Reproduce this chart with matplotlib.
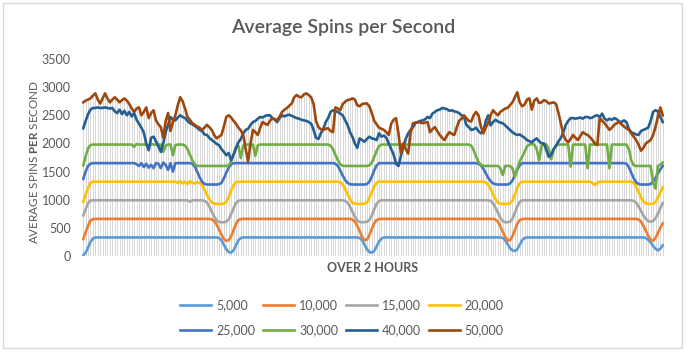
import matplotlib
matplotlib.use("Agg")
import matplotlib.pyplot as plt
from matplotlib.patches import Rectangle
import numpy as np

plt.rcParams['font.family'] = ['Lato', 'DejaVu Sans']
plt.rcParams['mathtext.fontset'] = 'custom'
plt.rcParams['mathtext.rm'] = 'Lato'
plt.rcParams['mathtext.bf'] = 'Lato:bold'

# spins per second, one reading every 30 s over 2 hours (240 readings)
s5000 = ([10, 60, 150, 250, 310] + [330] * 51
         + [320, 280, 200, 120, 70, 60, 100, 190, 280, 320] + [330] * 48
         + [320, 280, 200, 120, 70, 60, 90, 170, 260, 310] + [330] * 49
         + [320, 280, 210, 140, 100, 90, 120, 200, 280, 320] + [330] * 49
         + [320, 290, 240, 180, 130, 100, 130, 190])

s10000 = ([300, 420, 540, 630, 655] + [660] * 48
          + [650, 620, 560, 470, 380, 300, 270, 280, 350, 460, 570, 640, 655] + [660] * 45
          + [650, 610, 540, 440, 340, 280, 290, 370, 480, 580, 640, 655] + [660] * 47
          + [650, 610, 530, 430, 340, 280, 280, 350, 460, 570, 640, 655] + [660] * 47
          + [650, 610, 540, 450, 360, 290, 270, 320, 410, 500, 580])

s15000 = ([720, 830, 940, 985] + [990] * 40 + [965, 990] + [990] * 4
          + [980, 950, 880, 790, 700, 630, 605, 600, 600, 610, 650, 740, 850, 940, 980, 990] + [990] * 42
          + [980, 950, 880, 790, 700, 630, 605, 600, 600, 610, 640, 720, 830, 930, 980, 990] + [990] * 44
          + [980, 940, 860, 770, 680, 620, 600, 600, 610, 660, 770, 880, 960, 990] + [990] * 45
          + [980, 950, 880, 800, 720, 660, 620, 610, 620, 670, 750, 850, 940])

s20000 = ([960, 1090, 1210, 1300] + [1320] * 35
          + [1300, 1330, 1290, 1320, 1280, 1330, 1300, 1290, 1310]
          + [1300, 1260, 1180, 1090, 1010, 950, 930, 925, 925, 925, 930, 960, 1050, 1160, 1260, 1310, 1320]
          + [1320] * 41
          + [1310, 1270, 1190, 1100, 1010, 950, 930, 925, 925, 925, 930, 950, 1030, 1140, 1240, 1300, 1320]
          + [1320] * 43
          + [1310, 1270, 1190, 1100, 1010, 950, 930, 925, 925, 925, 935, 980, 1090, 1210, 1290, 1320]
          + [1320] * 28 + [1300, 1260, 1300] + [1320] * 14
          + [1300, 1240, 1140, 1040, 970, 935, 925, 925, 930, 960, 1040, 1130, 1220])

s25000 = ([1370, 1500, 1600, 1640] + [1650] * 18
          + [1630, 1600, 1650, 1580, 1640, 1570, 1620, 1560, 1650, 1640, 1560, 1660, 1620, 1530, 1650, 1500, 1650]
          + [1650] * 6
          + [1640, 1590, 1500, 1400, 1320, 1280, 1270, 1270, 1270, 1270, 1270, 1275, 1300, 1380, 1480, 1570, 1630, 1650]
          + [1650] * 41
          + [1640, 1600, 1520, 1430, 1350, 1300, 1275, 1270, 1270, 1270, 1270, 1270, 1270, 1280, 1320, 1410, 1520, 1610, 1650]
          + [1650] * 40
          + [1640, 1610, 1550, 1470, 1390, 1330, 1290, 1275, 1270, 1270, 1270, 1270, 1270, 1290, 1340, 1430, 1530, 1610, 1650]
          + [1650] * 42
          + [1640, 1580, 1480, 1380, 1310, 1280, 1270, 1270, 1270, 1270, 1280, 1320, 1390, 1470, 1540, 1600])

s30000 = ([1610, 1770, 1910, 1970] + [1980] * 17 + [1940, 1990] + [1980] * 4
          + [1950, 1990] + [1980] * 4 + [1850, 1960] + [1980] * 2 + [1790, 1970] + [1980] * 3
          + [1960, 1900, 1800, 1700, 1630] + [1600] * 13 + [1610, 1680, 1800, 1920, 1960]
          + [1740, 1960] + [1980] * 4 + [1780, 1970] + [1980] * 29
          + [1960, 1900, 1800, 1700, 1630, 1605] + [1600] * 10 + [1610, 1660, 1760, 1870, 1950]
          + [1980] * 37
          + [1960, 1880, 1770, 1670, 1620, 1600, 1600, 1600, 1600, 1600,
             1600, 1600, 1560, 1440, 1600, 1600, 1600, 1560, 1410, 1550,
             1680, 1760, 1850, 1950, 1980, 1990, 1980, 1900, 1700, 1950,
             1990, 1980, 1900, 1720, 1900, 1960, 1980, 1980, 1980, 1980,
             1980, 1590, 1980, 1980, 1980, 1980, 1980, 1980, 1560, 1980,
             1980, 1980, 1980, 1980, 1980, 1980, 1980, 1560, 1980, 1980,
             1980, 1980, 1980, 1980, 1980, 1900, 1700, 1610, 1600, 1600,
             1600, 1600, 1600, 1600, 1600, 1300, 1200, 1600, 1620, 1660])

s40000 = [2270, 2400, 2520, 2600, 2630, 2630, 2640, 2630, 2630, 2640,
          2630, 2620, 2630, 2570, 2540, 2600, 2520, 2580, 2500, 2560,
          2480, 2540, 2420, 2350, 2280, 2190, 2000, 1880, 2100, 2120,
          2040, 1950, 1850, 2000, 2200, 2330, 2470, 2420, 2410, 2460,
          2500, 2470, 2450, 2400, 2360, 2340, 2310, 2280, 2240, 2220,
          2160, 2150, 2100, 2060, 2030, 1990, 1970, 1900, 1850, 1790,
          1830, 1700, 1800, 1920, 2020, 2080, 2180, 2240, 2260, 2330,
          2380, 2400, 2440, 2470, 2460, 2490, 2500, 2500, 2450, 2420,
          2380, 2450, 2500, 2480, 2500, 2510, 2490, 2470, 2450, 2440,
          2420, 2410, 2400, 2380, 2350, 2240, 2100, 2080, 2180, 2260,
          2380, 2450, 2560, 2590, 2570, 2560, 2530, 2500, 2410, 2330,
          2200, 2120, 2000, 1920, 2090, 2060, 2030, 2080, 2120, 2090,
          2080, 2060, 2180, 2120, 2140, 2100, 2000, 1900, 1800, 1640,
          1600, 1780, 1940, 2080, 2180, 2240, 2290, 2360, 2380, 2400,
          2410, 2430, 2470, 2450, 2530, 2560, 2590, 2600, 2630, 2620,
          2610, 2580, 2590, 2570, 2560, 2540, 2500, 2470, 2330, 2290,
          2240, 2250, 2280, 2220, 2180, 2220, 2400, 2500, 2320, 2380,
          2420, 2390, 2370, 2360, 2320, 2280, 2240, 2200, 2170, 2150,
          2160, 2130, 2100, 2060, 2040, 2020, 2060, 2090, 2040, 2000,
          2000, 1880, 1760, 1800, 1900, 1960, 2040, 2100, 2200, 2330,
          2400, 2450, 2450, 2440, 2450, 2460, 2440, 2470, 2470, 2450,
          2460, 2490, 2500, 2470, 2530, 2440, 2410, 2440, 2420, 2450,
          2430, 2390, 2380, 2410, 2380, 2260, 2200, 2180, 2160, 2150,
          2220, 2240, 2260, 2280, 2400, 2560, 2590, 2570, 2470, 2380]

s50000 = [2730, 2760, 2780, 2800, 2850, 2890, 2780, 2710, 2800, 2890,
          2800, 2730, 2780, 2820, 2780, 2730, 2770, 2800, 2760, 2700,
          2620, 2560, 2620, 2640, 2500, 2560, 2640, 2450, 2540, 2590,
          2410, 2340, 2290, 2100, 2400, 2540, 2220, 2380, 2500, 2680,
          2820, 2750, 2620, 2470, 2420, 2360, 2330, 2300, 2280, 2240,
          2280, 2330, 2290, 2240, 2150, 2090, 2120, 2150, 2300, 2470,
          2500, 2460, 2400, 2350, 2280, 2230, 2150, 1900, 1680, 2000,
          2240, 2200, 2150, 2280, 2380, 2350, 2330, 2400, 2450, 2430,
          2410, 2480, 2560, 2600, 2630, 2670, 2710, 2820, 2860, 2830,
          2820, 2870, 2890, 2860, 2820, 2700, 2400, 2290, 2250, 2240,
          2260, 2270, 2220, 2200, 2640, 2620, 2590, 2700, 2740, 2770,
          2780, 2800, 2780, 2680, 2660, 2700, 2710, 2710, 2660, 2540,
          2400, 2340, 2280, 2260, 2240, 2200, 2150, 2350, 2420, 2450,
          2180, 1820, 2000, 1900, 1820, 2180, 2360, 2370, 2380, 2370,
          2360, 2370, 2380, 2200, 2250, 2290, 2220, 2150, 2100, 2060,
          2140, 2200, 2170, 2150, 2280, 2400, 2440, 2500, 2450, 2400,
          2390, 2500, 2560, 2500, 2300, 2180, 2280, 2370, 2500, 2590,
          2540, 2500, 2560, 2590, 2620, 2630, 2680, 2730, 2820, 2910,
          2730, 2660, 2690, 2780, 2800, 2600, 2760, 2800, 2720, 2730,
          2770, 2750, 2710, 2720, 2730, 2700, 2540, 2350, 2150, 2060,
          2020, 2080, 2150, 2100, 2060, 2130, 2200, 2170, 2150, 2110,
          2060, 2000, 1970, 2450, 2400, 2360, 2300, 2240, 2280, 2330,
          2360, 2380, 2340, 2300, 2270, 2240, 2180, 2120, 2060, 1980,
          1870, 1920, 2000, 2030, 2060, 2150, 2290, 2480, 2640, 2500]

labels = ['5,000', '10,000', '15,000', '20,000', '25,000', '30,000', '40,000', '50,000']
colors = ['#5B9BD5', '#ED7D31', '#A5A5A5', '#FFC000', '#4472C4', '#70AD47', '#255E91', '#9E480E']
series = [s5000, s10000, s15000, s20000, s25000, s30000, s40000, s50000]

fig = plt.figure(figsize=(6.89, 3.56), dpi=100)
ax = fig.add_axes([82 / 689, 100 / 356, 582 / 689, 197 / 356])

x = np.arange(len(s5000))
top = np.max(np.array(series), axis=0)
# drop lines from the highest series down to the axis
ax.vlines(x, 0, top, color='#cbcbcb', lw=0.55, zorder=1)

handles = []
for s, c, lab in zip(series, colors, labels):
    h, = ax.plot(x, s, color=c, lw=1.9, label=lab, zorder=3, solid_joinstyle='round')
    handles.append(h)

ax.set_xlim(-0.5, len(x) - 0.5)
ax.set_ylim(0, 3500)
ax.set_yticks(range(0, 3501, 500))
ax.set_xticks([])
ax.tick_params(axis='y', length=0, pad=8, labelsize=9, labelcolor='#595959')
for sp in ax.spines.values():
    sp.set_visible(False)

fig.text(34 / 689, 1 - 162 / 356, r'AVERAGE SPINS $\bf{PER}$ SECOND', rotation=90,
         ha='center', va='center', fontsize=8.4, color='#595959')
ax.set_xlabel('OVER 2 HOURS', fontsize=9, color='#595959', fontweight='bold', labelpad=4)

fig.text(343 / 689, 1 - 27 / 356, 'Average Spins per Second', ha='center', va='center',
         fontsize=14, color='#595959', fontweight='semibold')

# legend is filled row by row, matplotlib fills columns, so reorder
order = [0, 4, 1, 5, 2, 6, 3, 7]
fig.legend([handles[i] for i in order], [labels[i] for i in order],
           loc='center', bbox_to_anchor=(342 / 689, 1 - 318 / 356), ncol=4, frameon=False,
           fontsize=9, handlelength=2.5, handletextpad=0.4, columnspacing=0.6,
           labelspacing=1.05, labelcolor='#595959')

fig.patches.append(Rectangle((3 / 689, 8 / 356), 679 / 689, 345 / 356, transform=fig.transFigure,
                             fill=False, edgecolor='#d9d9d9', lw=1))

fig.savefig('out.png', dpi=100)
